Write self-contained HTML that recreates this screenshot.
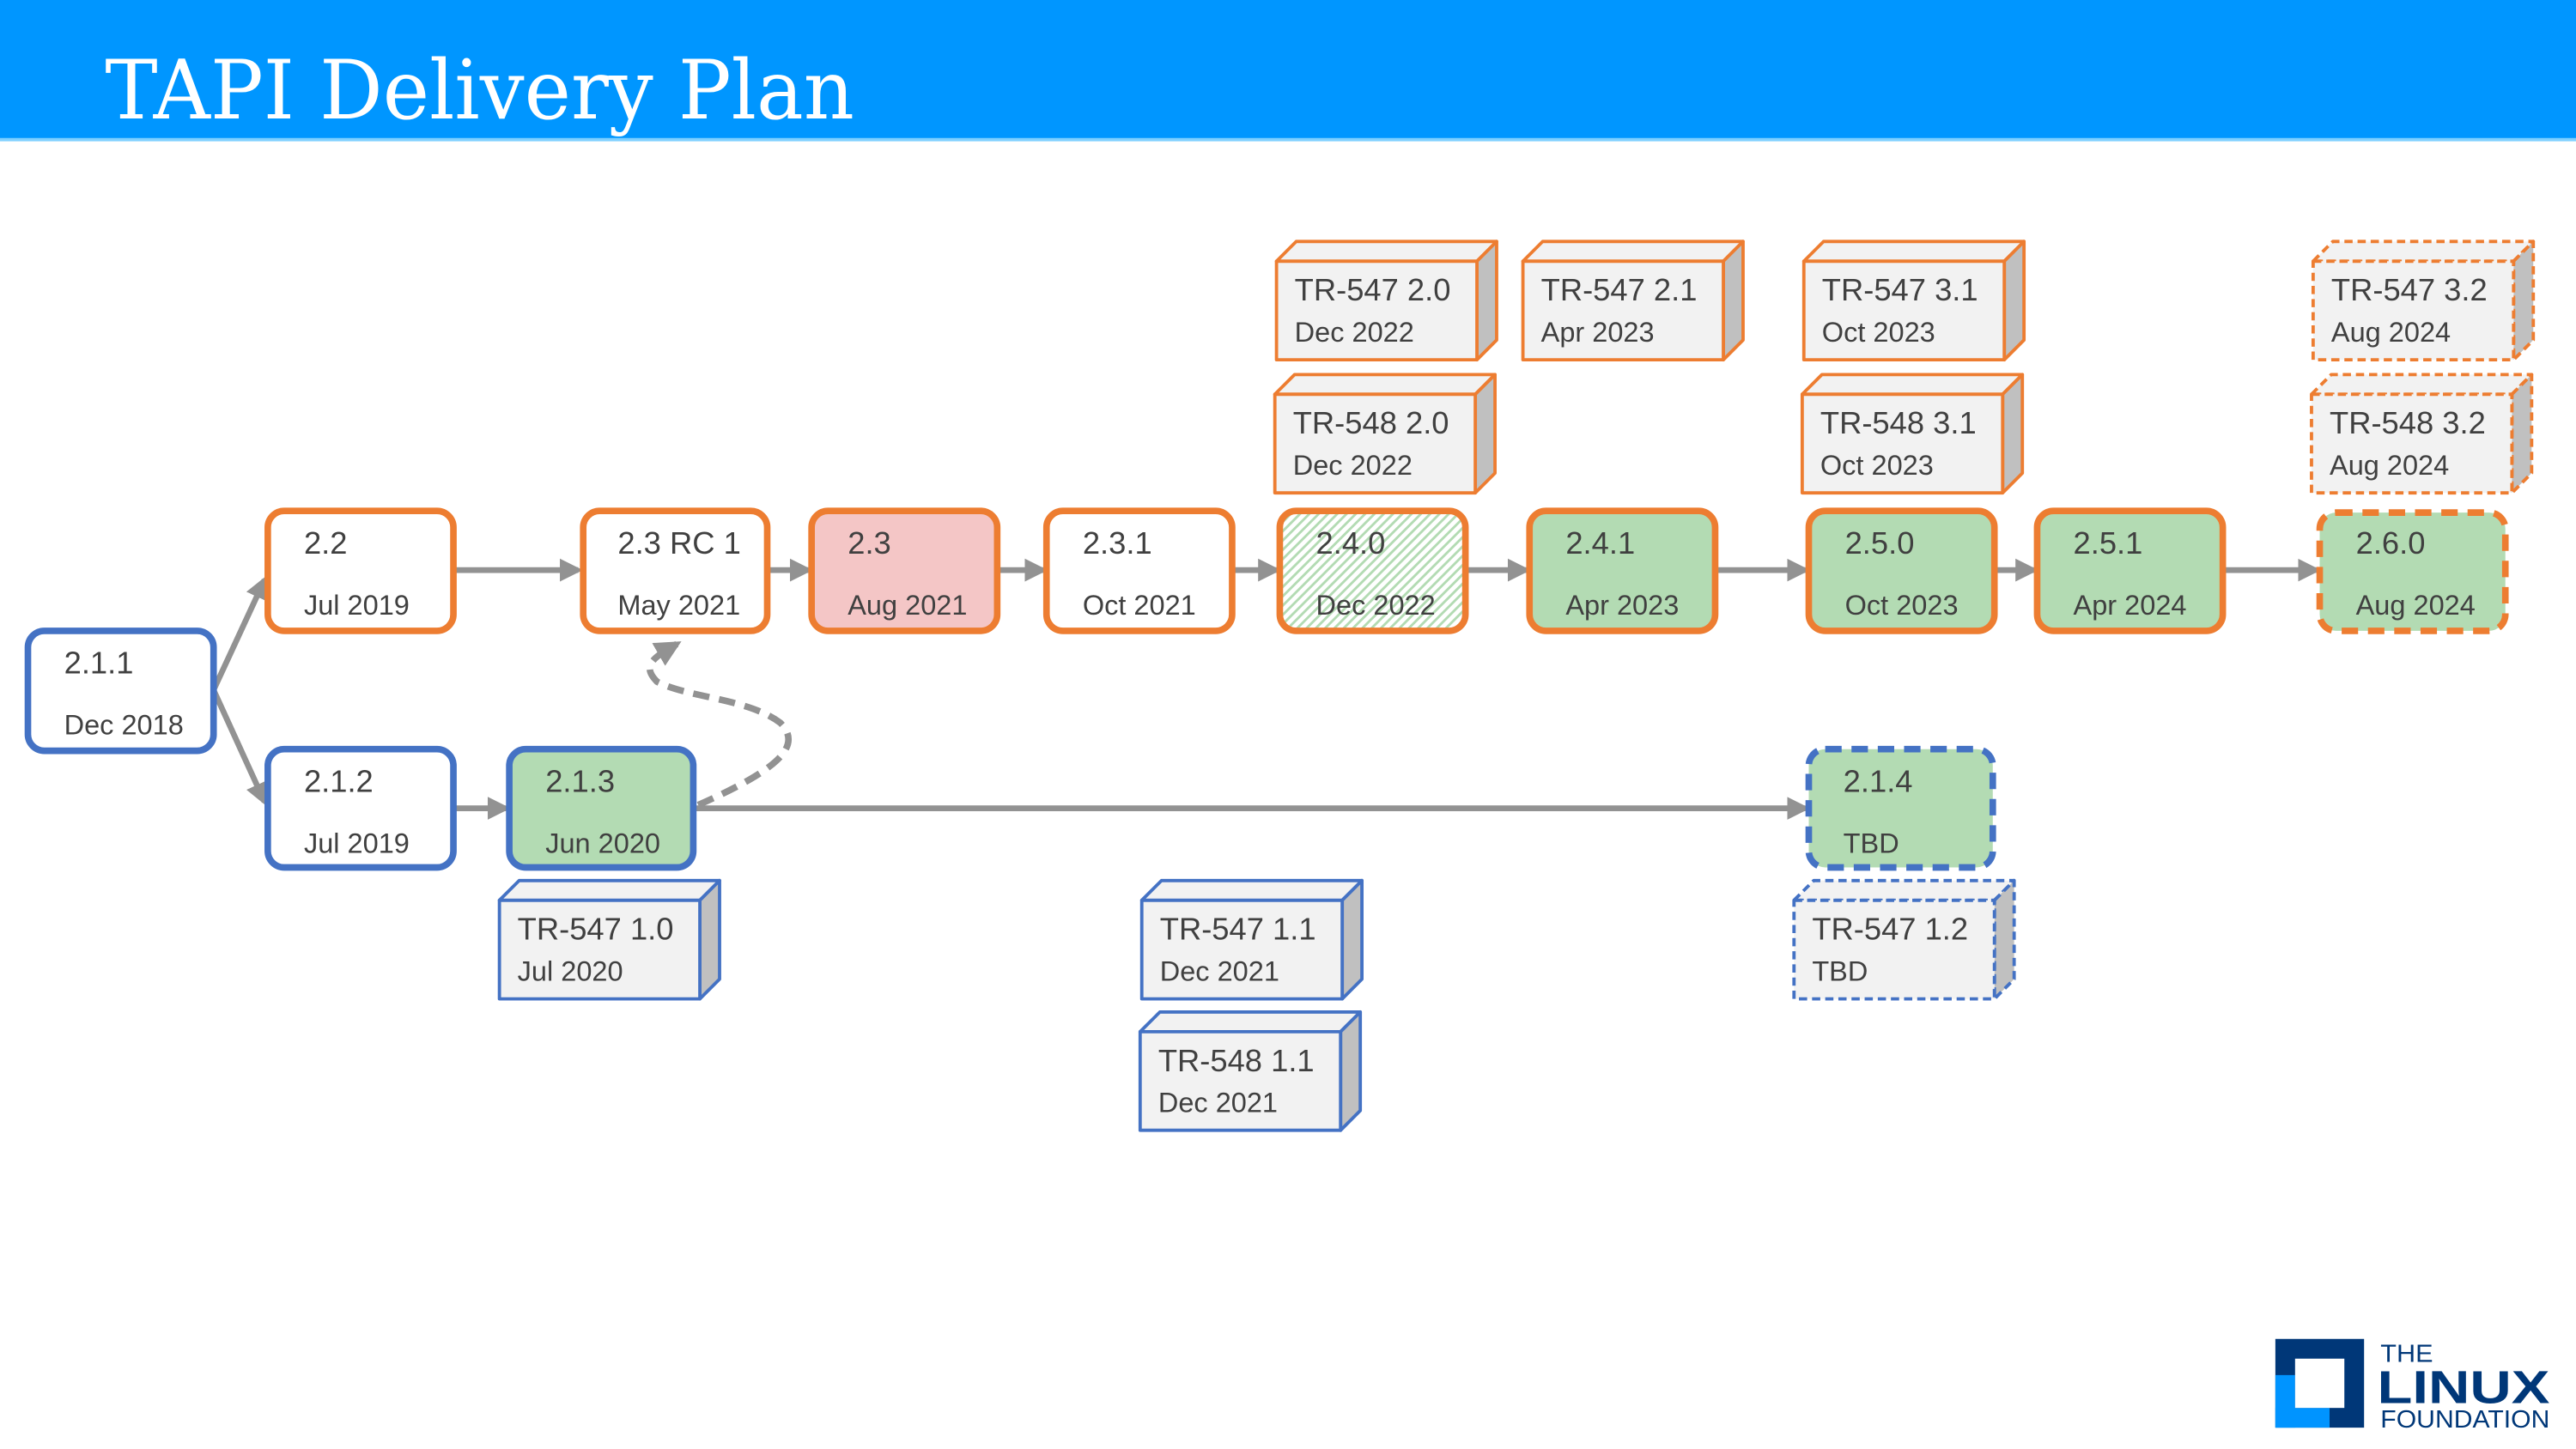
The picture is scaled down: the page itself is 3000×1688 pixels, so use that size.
<!DOCTYPE html>
<html><head><meta charset="utf-8"><style>
html,body{margin:0;padding:0;background:#fff;}
svg{display:block;}
text{font-family:"Liberation Sans",sans-serif;fill:#404040;}
</style></head><body>
<svg width="3000" height="1688" viewBox="0 0 1568 882" preserveAspectRatio="none" xmlns="http://www.w3.org/2000/svg">
<defs>
<pattern id="hatch" width="4" height="4" patternUnits="userSpaceOnUse" patternTransform="rotate(45)">
<rect width="4" height="4" fill="#fff"/><rect width="1.5" height="4" fill="#B3DBB3"/>
</pattern>
<marker id="ah" markerWidth="4" markerHeight="4" refX="3.2" refY="2" orient="auto" markerUnits="strokeWidth">
<path d="M0,0 L4,2 L0,4 z" fill="#929292"/>
</marker>
</defs>
<rect x="0" y="0" width="1568" height="85" fill="#0096FF"/>
<rect x="0" y="84" width="1568" height="2" fill="#7FD0FF"/>
<text x="64" y="72" style="font-family:'DejaVu Serif','Liberation Serif',serif;fill:#fff;font-weight:200" font-size="50" textLength="456" lengthAdjust="spacingAndGlyphs">TAPI Delivery Plan</text>

<!-- connectors -->
<g stroke="#929292" stroke-width="3.5" fill="none" marker-end="url(#ah)">
<line x1="130" y1="420" x2="161" y2="353"/>
<line x1="130" y1="420" x2="161" y2="488"/>
<line x1="277" y1="347" x2="352" y2="347"/>
<line x1="468" y1="347" x2="492" y2="347"/>
<line x1="608" y1="347" x2="635" y2="347"/>
<line x1="751" y1="347" x2="777" y2="347"/>
<line x1="893" y1="347" x2="929" y2="347"/>
<line x1="1045" y1="347" x2="1099" y2="347"/>
<line x1="1215" y1="347" x2="1238" y2="347"/>
<line x1="1354" y1="347" x2="1410" y2="347"/>
<line x1="277" y1="492" x2="308" y2="492"/>
<line x1="423" y1="492" x2="1099" y2="492"/>
<path d="M425,490 C470,470 490,455 475,440 C455,425 420,425 400,415 C390,405 398,400 412,392" stroke-width="4" stroke-dasharray="10,6"/>
</g>

<!-- main nodes -->
<g stroke-width="4">
<rect x="17" y="384" width="113" height="73" rx="10" fill="#fff" stroke="#4472C4"/>
<rect x="163" y="311" width="113" height="73" rx="10" fill="#fff" stroke="#ED7D31"/>
<rect x="355" y="311" width="112" height="73" rx="10" fill="#fff" stroke="#ED7D31"/>
<rect x="494" y="311" width="113" height="73" rx="10" fill="#F4C6C6" stroke="#ED7D31"/>
<rect x="637" y="311" width="113" height="73" rx="10" fill="#fff" stroke="#ED7D31"/>
<rect x="779" y="311" width="113" height="73" rx="10" fill="url(#hatch)" stroke="#ED7D31"/>
<rect x="931" y="311" width="113" height="73" rx="10" fill="#B3DBB3" stroke="#ED7D31"/>
<rect x="1101" y="311" width="113" height="73" rx="10" fill="#B3DBB3" stroke="#ED7D31"/>
<rect x="1240" y="311" width="113" height="73" rx="10" fill="#B3DBB3" stroke="#ED7D31"/>
<rect x="1412" y="312" width="113" height="72" rx="10" fill="#B3DBB3" stroke="#ED7D31" stroke-dasharray="10,6"/>
<rect x="163" y="456" width="113" height="72" rx="10" fill="#fff" stroke="#4472C4"/>
<rect x="310" y="456" width="112" height="72" rx="10" fill="#B3DBB3" stroke="#4472C4"/>
<rect x="1101" y="456" width="112" height="72" rx="10" fill="#B3DBB3" stroke="#4472C4" stroke-dasharray="10,6"/>
</g>
<g font-size="19">
<text x="39" y="410">2.1.1</text><text x="39" y="447" font-size="17">Dec 2018</text>
<text x="185" y="337">2.2</text><text x="185" y="374" font-size="17">Jul 2019</text>
<text x="376" y="337">2.3 RC 1</text><text x="376" y="374" font-size="17">May 2021</text>
<text x="516" y="337">2.3</text><text x="516" y="374" font-size="17">Aug 2021</text>
<text x="659" y="337">2.3.1</text><text x="659" y="374" font-size="17">Oct 2021</text>
<text x="801" y="337">2.4.0</text><text x="801" y="374" font-size="17">Dec 2022</text>
<text x="953" y="337">2.4.1</text><text x="953" y="374" font-size="17">Apr 2023</text>
<text x="1123" y="337">2.5.0</text><text x="1123" y="374" font-size="17">Oct 2023</text>
<text x="1262" y="337">2.5.1</text><text x="1262" y="374" font-size="17">Apr 2024</text>
<text x="1434" y="337">2.6.0</text><text x="1434" y="374" font-size="17">Aug 2024</text>
<text x="185" y="482">2.1.2</text><text x="185" y="519" font-size="17">Jul 2019</text>
<text x="332" y="482">2.1.3</text><text x="332" y="519" font-size="17">Jun 2020</text>
<text x="1122" y="482">2.1.4</text><text x="1122" y="519" font-size="17">TBD</text>
</g>

<!-- 3D boxes -->
<g stroke-width="2" stroke-linejoin="round">
<g stroke="#ED7D31">
<path d="M777,159 L789,147 L911,147 L899,159 Z" fill="#F2F2F2"/><path d="M899,159 L911,147 L911,207 L899,219 Z" fill="#C0C0C0"/><rect x="777" y="159" width="122" height="60" fill="#F2F2F2"/>
<path d="M776,240 L788,228 L910,228 L898,240 Z" fill="#F2F2F2"/><path d="M898,240 L910,228 L910,288 L898,300 Z" fill="#C0C0C0"/><rect x="776" y="240" width="122" height="60" fill="#F2F2F2"/>
<path d="M927,159 L939,147 L1061,147 L1049,159 Z" fill="#F2F2F2"/><path d="M1049,159 L1061,147 L1061,207 L1049,219 Z" fill="#C0C0C0"/><rect x="927" y="159" width="122" height="60" fill="#F2F2F2"/>
<path d="M1098,159 L1110,147 L1232,147 L1220,159 Z" fill="#F2F2F2"/><path d="M1220,159 L1232,147 L1232,207 L1220,219 Z" fill="#C0C0C0"/><rect x="1098" y="159" width="122" height="60" fill="#F2F2F2"/>
<path d="M1097,240 L1109,228 L1231,228 L1219,240 Z" fill="#F2F2F2"/><path d="M1219,240 L1231,228 L1231,288 L1219,300 Z" fill="#C0C0C0"/><rect x="1097" y="240" width="122" height="60" fill="#F2F2F2"/>
</g>
<g stroke="#ED7D31" stroke-dasharray="5,3">
<path d="M1408,159 L1420,147 L1542,147 L1530,159 Z" fill="#F2F2F2"/><path d="M1530,159 L1542,147 L1542,207 L1530,219 Z" fill="#C0C0C0"/><rect x="1408" y="159" width="122" height="60" fill="#F2F2F2"/>
<path d="M1407,240 L1419,228 L1541,228 L1529,240 Z" fill="#F2F2F2"/><path d="M1529,240 L1541,228 L1541,288 L1529,300 Z" fill="#C0C0C0"/><rect x="1407" y="240" width="122" height="60" fill="#F2F2F2"/>
</g>
<g stroke="#4472C4">
<path d="M304,548 L316,536 L438,536 L426,548 Z" fill="#F2F2F2"/><path d="M426,548 L438,536 L438,596 L426,608 Z" fill="#C0C0C0"/><rect x="304" y="548" width="122" height="60" fill="#F2F2F2"/>
<path d="M695,548 L707,536 L829,536 L817,548 Z" fill="#F2F2F2"/><path d="M817,548 L829,536 L829,596 L817,608 Z" fill="#C0C0C0"/><rect x="695" y="548" width="122" height="60" fill="#F2F2F2"/>
<path d="M694,628 L706,616 L828,616 L816,628 Z" fill="#F2F2F2"/><path d="M816,628 L828,616 L828,676 L816,688 Z" fill="#C0C0C0"/><rect x="694" y="628" width="122" height="60" fill="#F2F2F2"/>
</g>
<g stroke="#4472C4" stroke-dasharray="5,3">
<path d="M1092,548 L1104,536 L1226,536 L1214,548 Z" fill="#F2F2F2"/><path d="M1214,548 L1226,536 L1226,596 L1214,608 Z" fill="#C0C0C0"/><rect x="1092" y="548" width="122" height="60" fill="#F2F2F2"/>
</g>
</g>
<g font-size="19">
<text x="788" y="183">TR-547 2.0</text><text x="788" y="208" font-size="17">Dec 2022</text>
<text x="787" y="264">TR-548 2.0</text><text x="787" y="289" font-size="17">Dec 2022</text>
<text x="938" y="183">TR-547 2.1</text><text x="938" y="208" font-size="17">Apr 2023</text>
<text x="1109" y="183">TR-547 3.1</text><text x="1109" y="208" font-size="17">Oct 2023</text>
<text x="1108" y="264">TR-548 3.1</text><text x="1108" y="289" font-size="17">Oct 2023</text>
<text x="1419" y="183">TR-547 3.2</text><text x="1419" y="208" font-size="17">Aug 2024</text>
<text x="1418" y="264">TR-548 3.2</text><text x="1418" y="289" font-size="17">Aug 2024</text>
<text x="315" y="572">TR-547 1.0</text><text x="315" y="597" font-size="17">Jul 2020</text>
<text x="706" y="572">TR-547 1.1</text><text x="706" y="597" font-size="17">Dec 2021</text>
<text x="705" y="652">TR-548 1.1</text><text x="705" y="677" font-size="17">Dec 2021</text>
<text x="1103" y="572">TR-547 1.2</text><text x="1103" y="597" font-size="17">TBD</text>
</g>

<!-- logo -->
<rect x="1385" y="815" width="54" height="54" fill="#003778"/>
<rect x="1385" y="837" width="12" height="32" fill="#0094FF"/>
<rect x="1385" y="857" width="33" height="12" fill="#0094FF"/>
<rect x="1397" y="827" width="30" height="30" fill="#fff"/>
<text x="1449" y="829" font-size="15" style="fill:#003778" textLength="32" lengthAdjust="spacingAndGlyphs">THE</text>
<text x="1447" y="854" font-size="28" font-weight="bold" style="fill:#003778" textLength="105" lengthAdjust="spacingAndGlyphs">LINUX</text>
<text x="1449" y="869" font-size="15" style="fill:#003778" textLength="103" lengthAdjust="spacingAndGlyphs">FOUNDATION</text>
</svg>
</body></html>
